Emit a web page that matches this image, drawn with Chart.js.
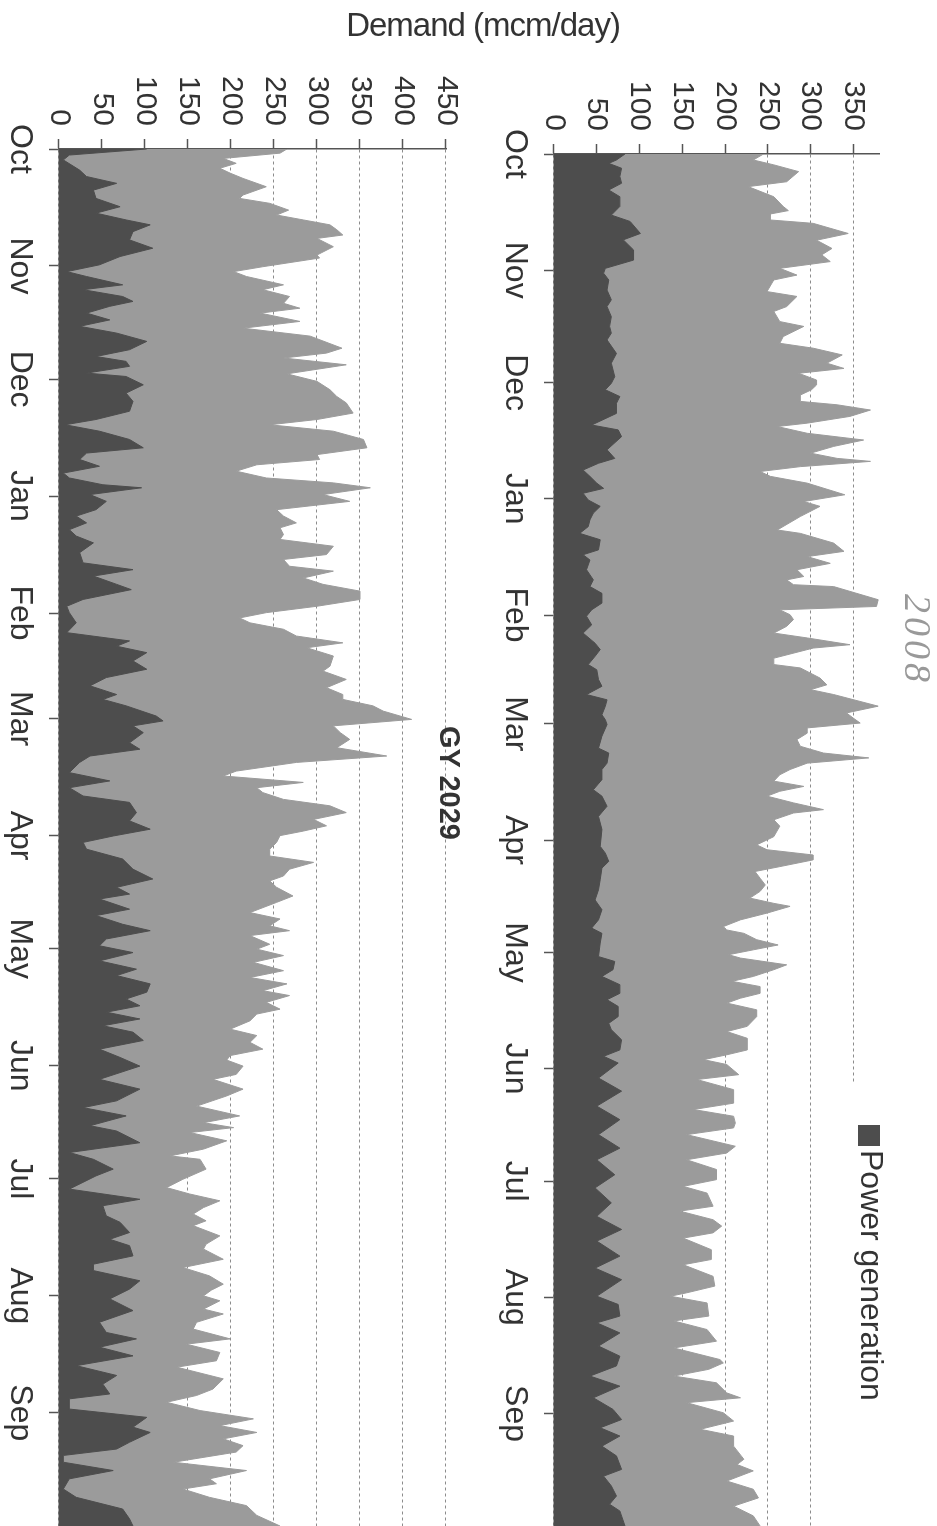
<!DOCTYPE html>
<html>
<head>
<meta charset="utf-8">
<script src="https://cdn.jsdelivr.net/npm/chart.js@4.4.1/dist/chart.umd.min.js"></script>
<style>
  html, body { margin: 0; padding: 0; background: #fff; overflow: hidden; }
  body { width: 937px; height: 1526px; position: relative; }
  /* the scanned page is turned a quarter turn clockwise */
  #page {
    position: absolute; left: 0; top: 0; width: 1526px; height: 937px;
    transform-origin: 0 0; transform: translate(937px, 0) rotate(90deg);
    background: #fff; color: #333;
    font-family: "Liberation Sans", Arial, sans-serif;
  }
  #page canvas { position: absolute; left: 0; }
  #c2008 { top: 0; }
  #c2029 { top: 460px; }
  .lbl { position: absolute; white-space: nowrap; }
  #yTitle { left: 25px; top: 454px; font-size: 33px; letter-spacing: -1px;
            transform: translate(-50%, -50%) rotate(-90deg); }
  #gyTitle { left: 783px; top: 487px; font-size: 29px; font-weight: bold;
             transform: translate(-50%, -50%); }
  #note { left: 640px; top: 19px; font-size: 38px; font-style: italic; color: #999;
          letter-spacing: 4px; font-family: "Liberation Serif", serif;
          transform: translate(-50%, -50%); }
</style>
</head>
<body>
<div id="page">
  <canvas id="c2008" width="1526" height="460"></canvas>
  <canvas id="c2029" width="1526" height="477"></canvas>
  <div class="lbl" id="yTitle">Demand (mcm/day)</div>
  <div class="lbl" id="gyTitle">GY 2029</div>
  <div class="lbl" id="note">2008</div>
</div>
<script>
const MONTHS = ["Oct", "Nov", "Dec", "Jan", "Feb", "Mar", "Apr", "May", "Jun", "Jul", "Aug", "Sep"];
const MONTH_START_2008 = [0, 31, 61, 92, 123, 152, 183, 213, 244, 274, 305, 336];
const MONTH_START_2029 = [0, 31, 61, 92, 123, 151, 182, 212, 243, 273, 304, 335];
const Y_TICKS_2008 = [0, 50, 100, 150, 200, 250, 300, 350];
const Y_TICKS_2029 = [0, 50, 100, 150, 200, 250, 300, 350, 400, 450];

// [day of gas year, mcm/day]
const TOTAL_2008 = [[0,245],[1.6,233],[2.9,257],[4.7,286],[7.4,272],[8.7,227],[11.4,257],[14,268],[15.1,274],[16,253],[17.6,253],[18.5,303],[21.2,344],[23,307],[25.2,325],[26.9,313],[28.7,323],[30.5,264],[32.3,284],[33.6,257],[36.7,249],[38,284],[40.7,272],[42,257],[44.7,264],[46,292],[48.7,268],[50.5,264],[51.8,303],[53.6,337],[55.8,319],[57.2,339],[58.5,286],[60.3,307],[61.6,307],[62.9,301],[64.3,288],[66,288],[66.9,331],[68.3,370],[70,346],[71.8,296],[72.7,261],[74.5,296],[76.3,362],[78,327],[79.8,300],[81.2,331],[82,370],[83.4,288],[84.7,241],[86,253],[87.8,296],[90.9,340],[92.7,292],[94,311],[96.7,288],[100.3,261],[101.2,288],[103.8,327],[106,339],[107.4,296],[109.2,323],[110.9,284],[112.7,292],[113.6,272],[114.9,280],[115.4,327],[118.9,379],[120.7,377],[121.6,264],[122.9,276],[124.2,280],[126,272],[127.8,257],[129.1,296],[130.9,346],[131.8,303],[134.5,257],[136.2,257],[137.1,288],[139.8,311],[141.6,319],[142.9,300],[144.2,327],[147.3,379],[149.1,342],[150.5,350],[151.8,358],[153.1,296],[154.5,296],[156.2,284],[158,288],[159.8,315],[161.1,368],[162.5,296],[164.2,276],[165.6,264],[167.3,257],[168.7,292],[170,264],[171.3,249],[173.1,280],[174.9,315],[175.8,280],[177.6,257],[179.3,264],[182.1,257],[184.3,237],[185.6,249],[187,303],[188.3,303],[190.1,264],[191.4,235],[193.2,241],[195,247],[196.7,241],[198.5,229],[199.9,257],[200.7,276],[202.5,249],[204.3,218],[206.1,198],[207,202],[207.9,222],[209.6,237],[211,262],[212.3,233],[213.6,204],[214.5,218],[216.3,272],[217.6,257],[219.4,233],[220.7,208],[222.1,241],[223.9,241],[225.2,218],[226.5,202],[228.3,237],[230.1,237],[232.7,226],[234.1,202],[235.9,226],[239,226],[240.3,202],[241.6,175],[242.9,202],[245.6,216],[246.9,167],[249.6,210],[253.2,210],[254.9,163],[256.7,210],[258.5,212],[259.8,210],[261.6,155],[264.7,212],[266.5,202],[268.3,155],[270.9,190],[273.6,190],[275.4,151],[277.2,179],[280.7,186],[282,147],[284.3,186],[286,196],[287.8,186],[289.2,151],[292.3,184],[294.9,184],[296.3,151],[299.4,186],[302,188],[303.8,155],[304.7,136],[306.5,179],[310,181],[311.3,140],[313.6,179],[316.7,190],[318.5,140],[321.6,194],[322.5,198],[324.2,181],[326,140],[327.8,190],[330.5,202],[331.8,218],[333.1,155],[335.8,198],[338,210],[340.2,171],[342,210],[344.7,210],[348.2,222],[349.6,214],[351.3,233],[354,202],[356.2,233],[358.5,239],[360.7,210],[363.3,233],[366,241]];

const POWER_2008 = [[0,83],[1.6,73],[2.5,64],[3.8,79],[6,77],[7.8,79],[9.6,64],[11.4,77],[14,77],[16.3,67],[18,89],[21.2,101],[22.9,81],[25.6,93],[28.3,93],[30.5,60],[31.8,58],[33.6,64],[36.3,62],[38.9,67],[40.7,62],[43.4,67],[46,65],[47.8,67],[49.6,62],[53.2,73],[55.8,67],[59.4,71],[61.2,67],[62.9,60],[64.7,77],[66.5,73],[69.2,73],[72.3,44],[73.6,75],[75.4,79],[78.9,62],[81.2,71],[82.5,52],[84.3,34],[86,42],[87.8,50],[89.2,58],[90.5,34],[92.3,40],[94,54],[95.8,46],[97.6,42],[99.4,40],[101.2,30],[102.9,54],[105.6,52],[106.9,34],[108.3,42],[110.9,38],[113.6,46],[115.4,42],[117.2,56],[119.8,56],[121.6,44],[123.3,38],[125.6,44],[127.8,34],[130.5,48],[132.2,54],[134,48],[136.2,40],[137.6,50],[140.2,52],[142,56],[144.2,38],[145.6,62],[147.3,60],[149.6,56],[150.9,60],[152.2,62],[155.3,56],[158.5,52],[159.8,64],[162.5,62],[164.2,56],[166.9,56],[169.6,46],[171.3,56],[174,62],[176.7,52],[180.2,56],[184.7,54],[186.5,60],[188.7,64],[190.5,56],[193.6,54],[196.3,52],[199,48],[201.6,56],[204.3,52],[206.5,44],[207.9,56],[210.5,54],[214.1,52],[215.4,71],[217.6,69],[219.4,56],[221.6,77],[223.9,77],[225.6,62],[227.4,75],[230.1,75],[231.9,64],[233.6,67],[236.3,79],[239,77],[240.7,58],[242.5,75],[246.5,52],[250,79],[254,50],[257.6,77],[261.6,52],[265.2,77],[268.3,50],[272.3,71],[275.8,48],[279.8,67],[283.4,50],[286.9,79],[290,50],[294,77],[297.2,48],[300.3,79],[304.7,50],[306.9,75],[310,77],[311.8,50],[314.5,77],[318,52],[320.7,77],[323.3,73],[326,42],[328.7,77],[331.8,46],[334.9,69],[337.6,79],[339.8,54],[342,77],[344.7,56],[347.3,73],[350.9,79],[352.7,58],[355.3,67],[358,73],[360.2,65],[362,77],[366,83]];

const TOTAL_2029 = [[0,265],[1.1,257],[2.5,191],[3.8,206],[5.1,187],[6.4,199],[7.8,214],[10,241],[12.2,214],[13.1,210],[14.4,245],[16.2,267],[17.5,253],[18.8,284],[20.1,315],[21.4,323],[22.8,330],[23.7,300],[25.9,319],[28.1,300],[28.9,303],[31.2,237],[32.5,203],[33.8,218],[36,261],[37.3,237],[39.1,268],[40.9,261],[42.2,280],[43.5,234],[45.7,280],[47.5,214],[49.6,292],[52.8,329],[54.1,311],[55.4,261],[57.2,334],[59.6,265],[61.6,300],[63.8,315],[65.6,323],[67.3,334],[70,342],[71.7,300],[73.1,245],[74.8,319],[77,354],[79.2,358],[81,300],[82.3,303],[83.7,230],[85.4,206],[87.2,241],[88.5,319],[89.8,362],[91.6,307],[93.4,338],[95.6,253],[97.3,261],[99.1,276],[100.4,257],[102.2,261],[103.5,257],[105.3,319],[107.5,311],[108.8,261],[110.6,268],[111.9,319],[113.7,284],[115.4,307],[117.2,350],[119.4,350],[121.2,300],[122.9,241],[124.3,210],[125.6,222],[127.3,261],[129.1,276],[130.9,330],[132.2,288],[134.4,319],[137.1,315],[138.4,307],[140.6,334],[142.8,311],[144.6,330],[145.9,330],[147.6,365],[149,377],[151.2,410],[152.9,319],[154.7,327],[156.5,338],[158.7,323],[160.9,381],[162.6,276],[164.9,206],[166.2,191],[167.9,284],[169.3,230],[170.6,237],[172.4,261],[174.1,315],[175.9,334],[177.7,296],[179.4,311],[180.8,284],[182,257],[183.8,253],[185.6,245],[187.4,245],[189.1,296],[190.9,268],[192.7,261],[194,245],[195.7,253],[198,272],[199.7,253],[202.4,222],[204.1,257],[205.9,245],[207.2,268],[208.5,222],[210.8,245],[212.1,230],[213.8,261],[215.6,226],[217.8,261],[219.6,222],[221.3,265],[223.1,237],[224.4,268],[226.2,241],[228,257],[229.3,230],[231.1,222],[233.3,199],[235,230],[236.8,222],[238.6,237],[240.3,199],[241.5,195],[243.1,214],[245.3,206],[246.6,179],[249.2,214],[251,195],[253.7,160],[256.3,210],[258.1,168],[259.4,203],[260.7,152],[262.9,195],[265.1,168],[266.9,129],[267.8,164],[270.4,171],[273.1,144],[275.3,125],[277,152],[278.8,187],[280.6,168],[282.3,156],[284.1,171],[285.4,156],[288.1,187],[290.3,171],[291.6,168],[294.3,191],[296.5,144],[298.7,175],[300.9,191],[302.5,177],[304,168],[305.3,187],[307.5,168],[308.8,191],[311,160],[312.8,156],[315.4,199],[316.8,148],[319,187],[321.2,183],[322.9,137],[326,191],[328.7,179],[330.4,160],[332.2,125],[334.4,164],[336.6,226],[338.4,187],[340.2,230],[341.9,191],[343.7,214],[345.4,206],[348.1,133],[350.3,218],[352.5,175],[353.8,183],[355.2,144],[357.4,175],[359.6,218],[362.2,230],[365,257]];

const POWER_2029 = [[0,102],[1.6,12],[2.9,5],[5.6,24],[7.3,32],[9.1,67],[10.9,40],[13.1,43],[15.3,71],[17,43],[18.8,78],[20.1,106],[21.9,86],[24.1,82],[26.3,109],[28.5,71],[30.7,47],[32.5,9],[33.8,32],[36,74],[37.3,28],[39.1,74],[40.4,86],[41.7,59],[43.5,32],[45.3,59],[47,24],[48.8,67],[51,102],[53.2,82],[55,43],[56.3,78],[57.6,82],[59.4,32],[60.3,78],[62.5,98],[64.7,78],[66.9,86],[69.5,82],[71.7,43],[73.1,7],[74.8,47],[77,82],[79.2,98],[80.6,32],[82.3,24],[84.1,47],[85.9,5],[87.2,12],[89,51],[89.8,96],[91.6,36],[93.4,55],[95.6,43],[97.3,20],[99.1,32],[100.9,12],[102.6,20],[104.4,40],[107,24],[109.7,28],[111.5,86],[113.2,40],[115.4,67],[116.8,84],[119.4,28],[121.2,9],[122.9,12],[125.6,20],[128.2,9],[130.4,82],[131.8,67],[133.5,102],[135.7,86],[137.9,102],[140.1,55],[142.3,36],[144.6,67],[145.9,51],[147.6,78],[150.3,113],[151.6,121],[152.9,86],[154.7,98],[157.4,82],[159.1,94],[160.9,36],[162.6,24],[165.3,12],[167.5,59],[169.3,12],[171.5,28],[173.2,82],[175.9,90],[178.1,82],[180.3,106],[182.1,63],[183.8,28],[185.6,32],[188.2,74],[190.9,86],[193.5,109],[195.7,67],[197.5,82],[198.8,47],[201.5,82],[203.2,43],[205.5,74],[207.2,106],[209.4,55],[211.2,47],[213,86],[215.2,47],[217.4,90],[219.1,67],[221.3,106],[223.5,102],[225.3,78],[227.1,94],[228.8,55],[230.6,94],[232.4,51],[234.1,86],[236.3,98],[238.6,47],[240.8,71],[243.1,94],[246.6,47],[249.2,94],[252.3,67],[254.1,28],[256.3,78],[258.9,36],[260.3,67],[263.4,94],[266,12],[267.8,40],[270.4,63],[272.2,43],[275.7,12],[278.4,94],[280.1,51],[282.8,55],[284.5,71],[287.2,82],[289,59],[290.7,82],[293.4,86],[295.6,40],[297.3,40],[300,94],[302.2,82],[304.8,59],[307.9,86],[311,47],[313.7,55],[315.4,90],[317.6,47],[319.9,86],[322.5,20],[325.1,67],[327.4,51],[330,59],[331.3,12],[334,12],[336.2,102],[338.8,86],[340.2,106],[342.8,82],[344.6,67],[346.3,5],[348.1,5],[350.3,63],[352.5,12],[355.2,5],[357.4,20],[360.5,74],[363.1,82],[365,86]];

const FONT = "Liberation Sans";
const DARK = "#4d4d4d";
const LIGHT = "#9b9b9b";
const AXIS = "#555";

const toXY = (pairs) => pairs.map(([x, y]) => ({ x, y }));

// white legend box laid over the top-right corner of the 2008 plot
const powerLegend = {
  id: "powerLegend",
  afterDraw(chart) {
    const ctx = chart.ctx;
    ctx.save();
    ctx.fillStyle = "#fff";
    ctx.fillRect(1083, 0, 443, 96);
    ctx.fillStyle = DARK;
    ctx.fillRect(1125, 57, 21, 22);
    ctx.fillStyle = "#333";
    ctx.font = `32px "${FONT}"`;
    ctx.textBaseline = "middle";
    ctx.fillText("Power generation", 1150, 67);
    ctx.restore();
  },
};

function areaChart(canvasId, opts) {
  const ctx = document.getElementById(canvasId);
  return new Chart(ctx, {
    type: "line",
    data: {
      datasets: [
        {
          label: "Power generation",
          data: toXY(opts.power),
          backgroundColor: DARK,
          borderColor: DARK,
          borderWidth: 1,
          pointRadius: 0,
          fill: "origin",
          tension: 0,
        },
        {
          label: "Total demand",
          data: toXY(opts.total),
          backgroundColor: LIGHT,
          borderColor: LIGHT,
          borderWidth: 1,
          pointRadius: 0,
          fill: "origin",
          tension: 0,
        },
      ],
    },
    options: {
      responsive: false,
      animation: false,
      events: [],
      layout: { padding: { top: opts.padTop, left: 0, right: 0, bottom: 0 } },
      plugins: { legend: { display: false }, tooltip: { enabled: false } },
      scales: {
        x: {
          type: "linear",
          min: 0,
          max: opts.days,
          afterBuildTicks: (s) => { s.ticks = opts.monthStarts.map((v) => ({ value: v })); },
          afterFit: (s) => { s.height = opts.xAxisHeight; },
          ticks: {
            autoSkip: false,
            maxRotation: 0,
            padding: 10,
            color: "#333",
            font: { family: FONT, size: 32 },
            callback: (v, i) => MONTHS[i],
          },
          grid: { drawOnChartArea: false, drawTicks: true, tickLength: 10, tickColor: AXIS, tickWidth: 1.5 },
          border: { display: true, color: AXIS, width: 1.5 },
        },
        y: {
          min: 0,
          max: opts.yMax,
          afterBuildTicks: (s) => { s.ticks = opts.yTicks.map((v) => ({ value: v })); },
          afterFit: (s) => { s.width = opts.yAxisWidth; },
          ticks: { padding: 13, color: "#333", font: { family: FONT, size: 30 } },
          grid: { color: "#8c8c8c", lineWidth: 1, tickColor: AXIS, tickLength: 10, tickWidth: 1.5, tickBorderDash: [] },
          border: { display: true, color: AXIS, width: 1.5, dash: [3, 3] },
        },
      },
    },
    plugins: opts.plugins || [],
  });
}

areaChart("c2008", {
  power: POWER_2008,
  total: TOTAL_2008,
  days: 366,
  monthStarts: MONTH_START_2008,
  yMax: 380,
  yTicks: Y_TICKS_2008,
  padTop: 58,
  xAxisHeight: 77,
  yAxisWidth: 154,
  plugins: [powerLegend],
});

areaChart("c2029", {
  power: POWER_2029,
  total: TOTAL_2029,
  days: 365,
  monthStarts: MONTH_START_2029,
  yMax: 450,
  yTicks: Y_TICKS_2029,
  padTop: 31,
  xAxisHeight: 59,
  yAxisWidth: 149,
});
</script>
</body>
</html>
